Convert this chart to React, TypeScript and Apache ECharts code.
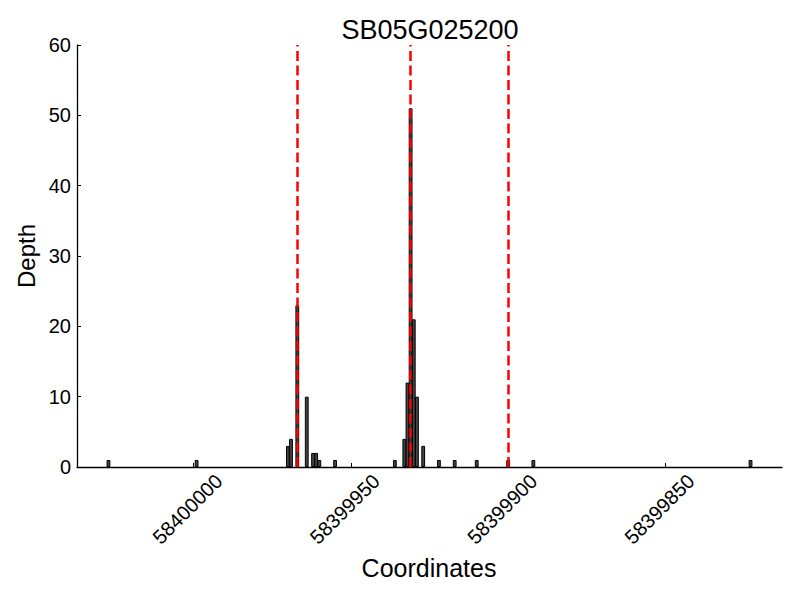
import React, { useEffect, useRef } from "react";
import * as echarts from "echarts";

const TITLE = "SB05G025200";
const X_NAME = "Coordinates";
const Y_NAME = "Depth";

const coordinates = [
  58400027, 58399999, 58399970, 58399969, 58399967, 58399964, 58399962,
  58399961, 58399960, 58399955, 58399936, 58399933, 58399932, 58399931,
  58399930, 58399929, 58399927, 58399922, 58399917, 58399910, 58399900,
  58399892, 58399823,
];
const depths = [
  1, 1, 3, 4, 23, 10, 2, 2, 1, 1, 1, 4, 12, 51, 21, 10, 3, 1, 1, 1, 1, 1, 1,
];
const markerPositions = [58399967, 58399931, 58399900];
const xTicks = [58400000, 58399950, 58399900, 58399850];
const xMin = 58399813;
const xMax = 58400037;
const yTicks = [0, 10, 20, 30, 40, 50, 60];

const FONT = "Liberation Sans, Arial, Helvetica, sans-serif";

export default function App() {
  const ref = useRef<HTMLDivElement>(null);
  useEffect(() => {
    if (!ref.current) return;
    const chart = echarts.init(ref.current, null, { renderer: "svg" });
    const barData = coordinates.map((c, i) => [c, depths[i]]);
    chart.setOption({
      animation: false,
      backgroundColor: "#ffffff",
      textStyle: { fontFamily: FONT },
      title: {
        text: TITLE,
        left: 425,
        top: 11,
        textAlign: "center",
        textStyle: { fontFamily: FONT, fontSize: 27, fontWeight: "normal", color: "#000" },
      },
      grid: { left: 77, right: 18, top: 45, bottom: 133, containLabel: false },
      xAxis: {
        type: "value",
        inverse: true,
        min: xMin,
        max: xMax,
        axisLine: { show: true, lineStyle: { color: "#000", width: 1.3 } },
        axisTick: { show: true, inside: true, length: 4, lineStyle: { color: "#000" }, customValues: xTicks },
        splitLine: { show: false },
        axisLabel: {
          customValues: xTicks,
          rotate: 45,
          align: "center",
          verticalAlign: "middle",
          margin: 36,
          padding: [0, 17, 0, 0],
          fontSize: 20,
          color: "#000",
          fontFamily: FONT,
          formatter: (v: number) => String(v),
        },
      },
      yAxis: {
        type: "value",
        min: yTicks[0],
        max: yTicks[yTicks.length - 1],
        interval: 10,
        axisLine: { show: true, lineStyle: { color: "#000", width: 1.3 } },
        axisTick: { show: true, inside: true, length: 4, lineStyle: { color: "#000" } },
        splitLine: { show: false },
        axisLabel: { margin: 6, fontSize: 20, color: "#000", fontFamily: FONT },
      },
      graphic: [
        {
          type: "text",
          x: 429,
          y: 568,
          style: { text: X_NAME, font: `25px ${FONT}`, fill: "#000", align: "center", verticalAlign: "middle" },
        },
        {
          type: "text",
          x: 26,
          y: 256,
          rotation: Math.PI / 2,
          style: { text: Y_NAME, font: `24px ${FONT}`, fill: "#000", align: "center", verticalAlign: "middle" },
        },
      ],
      series: [
        {
          type: "bar",
          data: barData,
          barWidth: 3.8,
          itemStyle: { color: "#454545", borderColor: "#000", borderWidth: 1 },
          markLine: {
            silent: true,
            symbol: "none",
            label: { show: false },
            lineStyle: { color: "#ff0000", type: [10, 4.5], width: 2.5 },
            data: markerPositions.map((x) => ({ xAxis: x })),
          },
        },
      ],
    });
    return () => chart.dispose();
  }, []);
  return (
    <div
      ref={ref}
      style={{ position: "fixed", left: 0, top: 0, width: 800, height: 600, background: "#fff" }}
    />
  );
}
